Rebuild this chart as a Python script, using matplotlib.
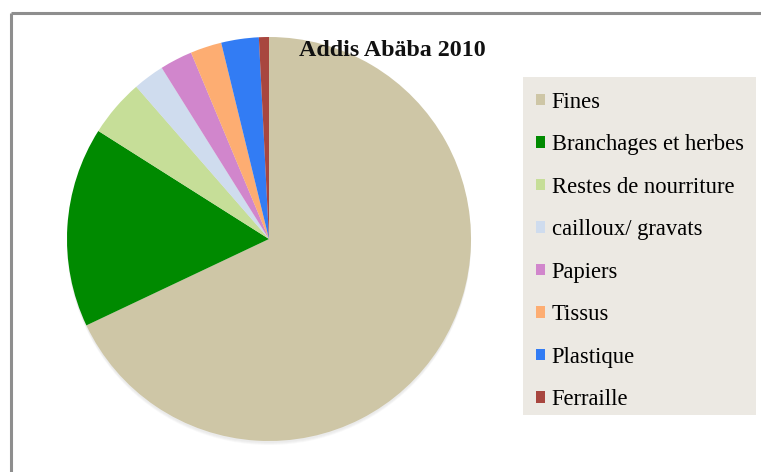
import matplotlib
matplotlib.use("Agg")
import matplotlib.pyplot as plt
from matplotlib.patches import Rectangle, Circle

# Data
categories = ["Fines", "Branchages et herbes", "Restes de nourriture",
              "cailloux/ gravats", "Papiers", "Tissus", "Plastique", "Ferraille"]
values = [67.9, 16.0, 4.6, 2.5, 2.6, 2.5, 3.0, 0.8]
colors = ["#CEC6A6", "#008A00", "#C6DE98", "#CFDCEE", "#D186CC",
          "#FDAD72", "#327CF4", "#A8463F"]
title = "Addis Abäba 2010"

W, H = 761, 472
fig = plt.figure(figsize=(W / 100, H / 100), dpi=100)
fig.patch.set_facecolor("white")
ax = fig.add_axes([0, 0, 1, 1])

cx, cy, r = 269, 239, 202
# soft shadow (mostly below the pie)
for i, a in enumerate([0.05, 0.05, 0.05]):
    ax.add_patch(Circle((cx, cy + 2 + i), r, color="#808080", alpha=a, lw=0, zorder=1))

# y axis is inverted (pixel coords), so startangle=-90 points up on screen
# and counterclock=True runs clockwise on screen
wedges, _ = ax.pie(values, colors=colors, startangle=-90, counterclock=True,
                   center=(cx, cy), radius=r, frame=True,
                   wedgeprops=dict(linewidth=0, zorder=2))
ax.set_xlim(0, W)
ax.set_ylim(H, 0)
ax.set_aspect("equal")
ax.axis("off")

# border (top and left visible)
ax.plot([11, W], [12.5, 12.5], color="#8E8E8E", lw=2.2, solid_capstyle="butt")
ax.plot([11, 11], [12.5, H], color="#8E8E8E", lw=2.2, solid_capstyle="butt")

ax.text(392.5, 51, title, fontsize=17.3, fontweight="bold", family="Liberation Serif",
        ha="center", va="center", color="#111111", zorder=5)

# legend background
ax.add_patch(Rectangle((523, 77), 233, 338, facecolor="#ECE9E3", edgecolor="none", zorder=3))

handles = [Rectangle((0, 0), 1, 1, facecolor=c, edgecolor="none") for c in colors]
leg = ax.legend(handles, categories, loc="upper left",
                bbox_to_anchor=(536 / W, 1 - 91.5 / H), bbox_transform=fig.transFigure,
                frameon=False, prop={"family": "Liberation Serif", "size": 16.3},
                handlelength=0.4, handleheight=0.4, handletextpad=0.3,
                labelspacing=0.95, borderpad=0, borderaxespad=0)
leg.set_zorder(6)

fig.savefig("out.png", dpi=100)
